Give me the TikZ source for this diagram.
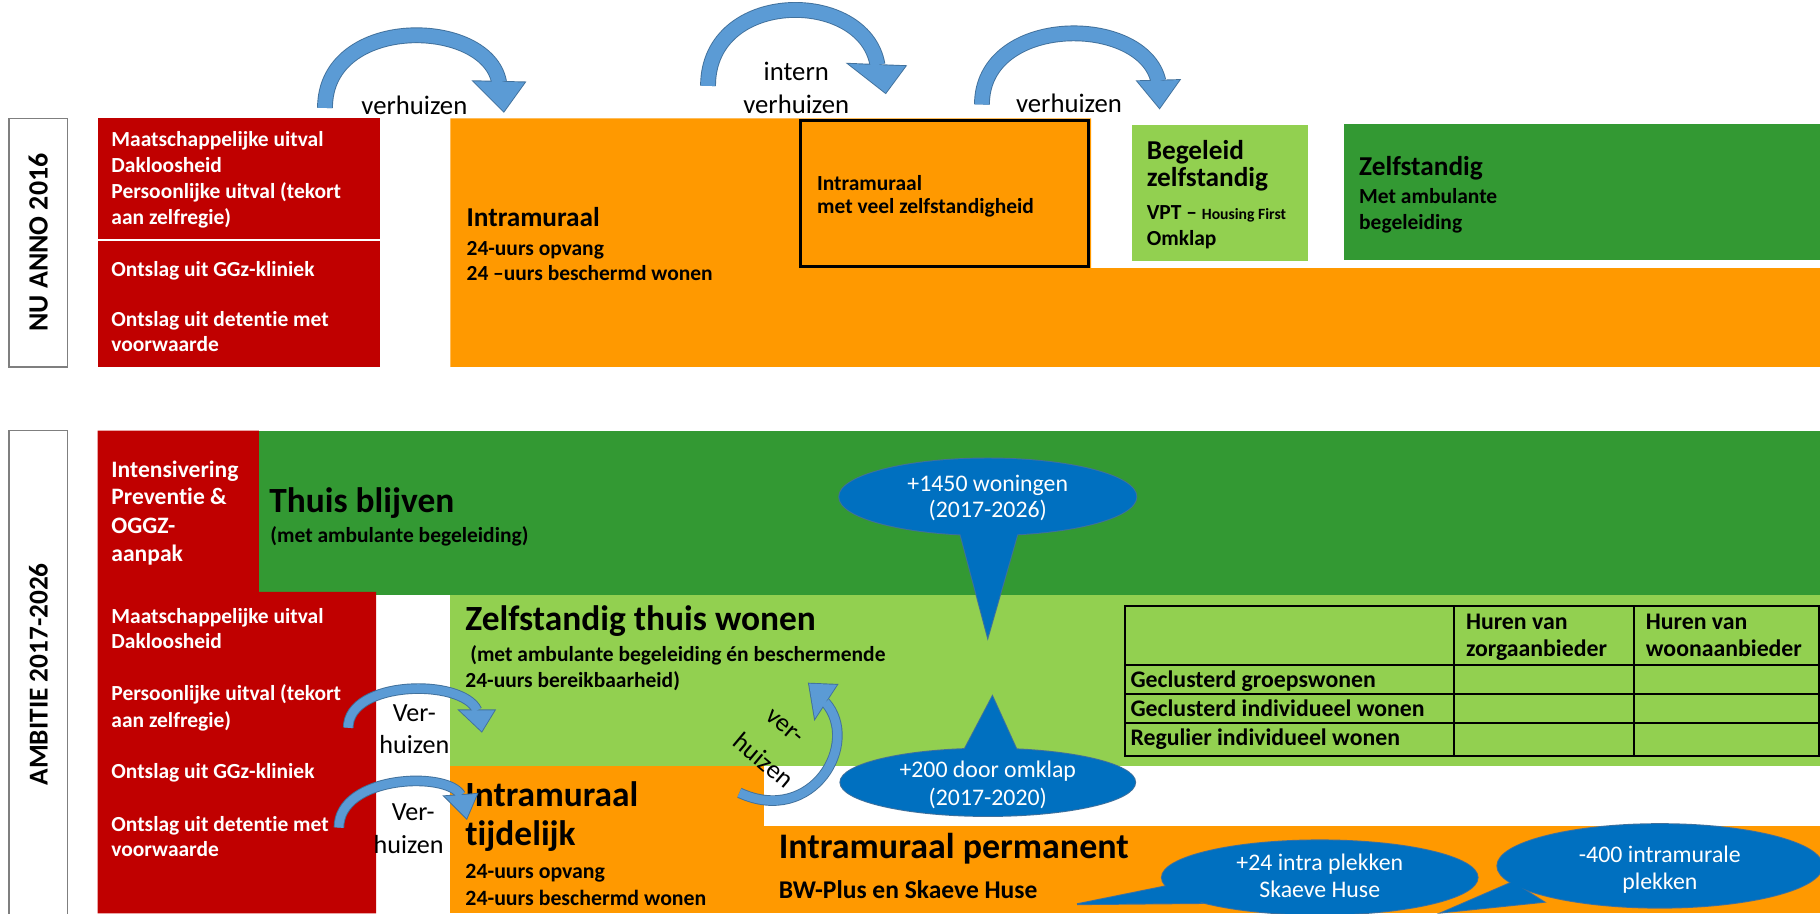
\documentclass[tikz,border=0pt]{standalone}
\usepackage{fontspec}
\setmainfont{Carlito}[Ligatures=NoCommon]
\definecolor{cRed}{HTML}{C00000}
\definecolor{cOrange}{HTML}{FF9900}
\definecolor{cLight}{HTML}{92D050}
\definecolor{cDark}{HTML}{339933}
\definecolor{cBlue}{HTML}{0070C0}
\definecolor{cBlueB}{HTML}{41719C}
\definecolor{cArrow}{HTML}{5B9BD5}
\definecolor{cArrowB}{HTML}{41719C}
\definecolor{cFrame}{HTML}{7F7F7F}
\newcommand{\fz}[1]{\fontsize{#1}{#1}\selectfont}
\newcommand{\blockarrow}[5]{%
  \filldraw[fill=cArrow,draw=cArrowB,line width=1.6pt,line join=miter] #2 -- #3 -- #4 -- cycle;
  \draw[draw=cArrowB,line width=0.8pt,double=cArrow,double distance=#5] #1;
  \fill[cArrow] #2 -- #3 -- #4 -- cycle;}
\newcommand{\callout}[3]{%
  \path[draw=cBlueB,line width=1.6pt] #1;
  \path[draw=cBlueB,line width=1.6pt,line join=miter] #2;
  \fill[cBlue] #1;
  \fill[cBlue] #2;}
\begin{document}
\begin{tikzpicture}[x=1pt,y=-1pt,
  tx/.style={anchor=base west,inner sep=0pt,outer sep=0pt},
  tc/.style={anchor=base,inner sep=0pt,outer sep=0pt},
  wb/.style={tx,text=white,font=\bfseries\fz{18.5}},
  bb/.style={tx,text=black,font=\bfseries\fz{18.5}},
  tb/.style={tx,text=black,font=\bfseries\fz{20.5}},
  big/.style={tx,text=black,font=\bfseries\fz{30.5}},
  lbl/.style={tc,text=black,font=\fz{23}},
  cw/.style={tc,text=white,font=\fz{20.5}},
  tline/.style={black,line width=1.8pt}]
\useasboundingbox (0,0) rectangle (1568,787);
\fill[white] (0,0) rectangle (1568,787);

% ================= TOP: NU ANNO 2016 =================
\draw[cFrame,line width=1.4pt,fill=white] (8,102) rectangle (58,316);
\node[rotate=90,inner sep=0pt,font=\bfseries\fz{24}] (lab1) at (33,209) {NU ANNO 2016};

\fill[cRed] (84,102) rectangle (327,316);
\draw[white,line width=2pt] (84,207) -- (327,207);
\node[wb] (r1) at (96,126.4) {Maatschappelijke uitval};
\node[wb] (r2) at (96,148.5) {Dakloosheid};
\node[wb] (r3) at (96,171) {Persoonlijke uitval (tekort};
\node[wb] (r4) at (96,193.5) {aan zelfregie)};
\node[wb] (r5) at (96,238.5) {Ontslag uit GGz-kliniek};
\node[wb] (r6) at (96,281) {Ontslag uit detentie met};
\node[wb] (r7) at (96,303) {voorwaarde};

\fill[cOrange] (388,102) -- (940,102) -- (940,231) -- (1568,231) -- (1568,316) -- (388,316) -- cycle;
\draw[black,line width=2.6pt] (690,104) rectangle (938,230);
\node[tx,font=\bfseries\fz{23.5}] (o1) at (402,195.3) {Intramuraal};
\node[bb] (o2) at (402,220) {24-uurs opvang};
\node[bb] (o3) at (402,242) {24 –uurs beschermd wonen};
\node[bb] (o4) at (704,163.7) {Intramuraal};
\node[bb] (o5) at (704,184) {met veel zelfstandigheid};

\fill[cLight] (975,108) rectangle (1127,225);
\node[tx,font=\bfseries\fz{23.5}] (g1) at (988,137.8) {Begeleid};
\node[tx,font=\bfseries\fz{23.5}] (g2) at (988,161) {zelfstandig};
\node[bb] (g3) at (988,189.5) {VPT – {\fz{13.5}Housing First}};
\node[bb] (g4) at (988,211.5) {Omklap};

\fill[cDark] (1158,107) rectangle (1568,224);
\node[tx,font=\bfseries\fz{23.5}] (d1) at (1171,150.8) {Zelfstandig};
\node[bb] (d2) at (1171,175) {Met ambulante};
\node[bb] (d3) at (1171,198) {begeleiding};

% top arrows
\blockarrow{(280,93) .. controls (280,12) and (420,15) .. (430,71)}{(408,70)}{(434,96)}{(452,71)}{12pt}
\blockarrow{(610,74) .. controls (610,-10) and (745,-10) .. (756,56)}{(731,55)}{(763,80)}{(780,57)}{12pt}
\blockarrow{(846,90) .. controls (846,12) and (985,12) .. (998,70)}{(980,70)}{(999,93)}{(1016,69)}{12pt}
\node[lbl] (v1) at (357,99) {verhuizen};
\node[lbl] (v2a) at (686,69) {intern};
\node[lbl] (v2b) at (686,97.6) {verhuizen};
\node[lbl] (v3) at (921,97) {verhuizen};

% ================= BOTTOM: AMBITIE 2017-2026 =================
\draw[cFrame,line width=1.4pt] (8,790) -- (8,371) -- (58,371) -- (58,790);
\node[rotate=90,inner sep=0pt,font=\bfseries\fz{23.5}] (lab2) at (33,581) {AMBITIE 2017-2026};

\fill[cDark] (223,371) rectangle (1568,513);
\fill[cLight] (388,513) rectangle (1568,660);
\fill[cOrange] (388,660) rectangle (658,787);
\fill[cOrange] (658,712) rectangle (1568,787);
\fill[cRed] (84,371) -- (223,371) -- (223,510) -- (324,510) -- (324,787) -- (84,787) -- cycle;

\node[wb,font=\bfseries\fz{20.3}] (b1) at (96,411) {Intensivering};
\node[wb,font=\bfseries\fz{20.3}] (b2) at (96,435) {Preventie \&};
\node[wb,font=\bfseries\fz{20.3}] (b3) at (96,459.5) {OGGZ-};
\node[wb,font=\bfseries\fz{20.3}] (b4) at (96,484) {aanpak};
\node[wb] (b5) at (96,537) {Maatschappelijke uitval};
\node[wb] (b6) at (96,558.6) {Dakloosheid};
\node[wb] (b7) at (96,603.7) {Persoonlijke uitval (tekort};
\node[wb] (b8) at (96,626.5) {aan zelfregie)};
\node[wb] (b9) at (96,671) {Ontslag uit GGz-kliniek};
\node[wb] (b10) at (96,716) {Ontslag uit detentie met};
\node[wb] (b11) at (96,738) {voorwaarde};

\node[big] (t1) at (232,441.7) {Thuis blijven};
\node[bb] (t2) at (233,467.5) {(met ambulante begeleiding)};

\node[big] (z1) at (401,543.4) {Zelfstandig thuis wonen};
\node[bb] (z2) at (401,570) {\ (met ambulante begeleiding én beschermende};
\node[bb] (z3) at (401,592) {24-uurs bereikbaarheid)};

\node[big] (i1) at (401,695) {Intramuraal};
\node[big] (i2) at (401,728) {tijdelijk};
\node[tx,font=\bfseries\fz{18.8}] (i3) at (401,757) {24-uurs opvang};
\node[tx,font=\bfseries\fz{18.8}] (i4) at (401,780) {24-uurs beschermd wonen};

\node[big,font=\bfseries\fz{31}] (p1) at (671,740) {Intramuraal permanent};
\node[tx,font=\bfseries\fz{22}] (p2) at (671,774) {BW-Plus en Skaeve Huse};

% table
\draw[tline] (969,522) rectangle (1567,651);
\draw[tline] (969,573) -- (1567,573);
\draw[tline] (969,598) -- (1567,598);
\draw[tline] (969,623) -- (1567,623);
\draw[tline] (1253,522) -- (1253,651);
\draw[tline] (1408,522) -- (1408,651);
\node[tb] (h1) at (1263,542) {Huren van};
\node[tb] (h2) at (1263,566) {zorgaanbieder};
\node[tb] (h3) at (1418,542) {Huren van};
\node[tb] (h4) at (1418,566) {woonaanbieder};
\node[tb] (k1) at (974,592) {Geclusterd groepswonen};
\node[tb] (k2) at (974,617) {Geclusterd individueel wonen};
\node[tb] (k3) at (974,642) {Regulier individueel wonen};

% callouts
\callout{(851,428) ellipse [x radius=128,y radius=33]}{(826,455) -- (851,549) -- (878,455) -- cycle}{}
\node[cw] (c1a) at (851,423.6) {+1450 woningen};
\node[cw] (c1b) at (851,446) {(2017-2026)};
\callout{(851,674) ellipse [x radius=127,y radius=29]}{(826,655) -- (855,600) -- (880,655) -- cycle}{}
\node[cw] (c2a) at (851,670) {+200 door omklap};
\node[cw] (c2b) at (851,694) {(2017-2020)};
\callout{(1137,756) ellipse [x radius=136,y radius=32]}{(1012,762) -- (928,779) -- (1035,778) -- cycle}{}
\node[cw] (c3a) at (1137,750) {+24 intra plekken};
\node[cw] (c3b) at (1137,773) {Skaeve Huse};
\callout{(1430,746) ellipse [x radius=140,y radius=36]}{(1303,760) -- (1243,786) -- (1330,777) -- cycle}{}
\node[cw] (c4a) at (1430,743) {-400 intramurale};
\node[cw] (c4b) at (1430,766) {plekken};

% bottom arrows
\blockarrow{(300,627) .. controls (300,586) and (398,584) .. (411,612)}{(396,612)}{(415,630)}{(426,612)}{7.5pt}
\blockarrow{(292,713) .. controls (292,668) and (385,664) .. (397,685)}{(383,686)}{(402,705)}{(411,684)}{7.5pt}
\blockarrow{(637,683) .. controls (700,712) and (742,640) .. (711,605)}{(721,590)}{(697,589)}{(702,619)}{7.5pt}
\node[tc,font=\fz{22.5}] (w1) at (357,622) {Ver-};
\node[tc,font=\fz{22.5}] (w2) at (357,649) {huizen};
\node[tc,font=\fz{22.5}] (w3) at (356,707) {Ver-};
\node[tc,font=\fz{22.5}] (w4) at (352,735) {huizen};
\node[rotate=-40,inner sep=0pt,font=\fz{22.5}] (w5) at (676,626) {ver-};
\node[rotate=-40,inner sep=0pt,font=\fz{22.5}] (w6) at (658,655) {huizen};
\end{tikzpicture}
\end{document}
